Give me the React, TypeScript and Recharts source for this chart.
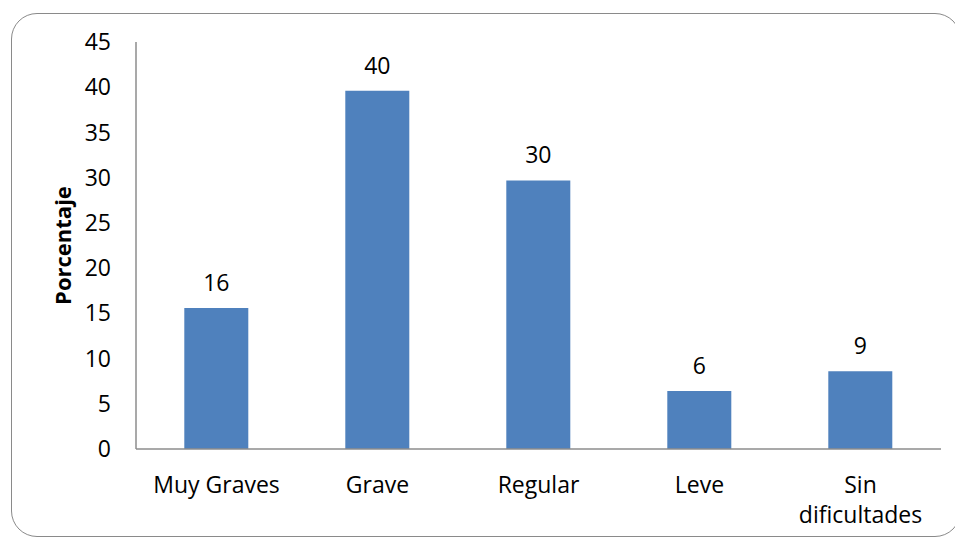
import { BarChart, Bar, XAxis, YAxis, LabelList } from "recharts";

const categories = ["Muy Graves", "Grave", "Regular", "Leve", "Sin dificultades"];
const porcentajes = [15.6, 39.6, 29.7, 6.4, 8.6];
const yTicks = [0, 5, 10, 15, 20, 25, 30, 35, 40, 45];

const data = categories.map((c, i) => ({ name: c, value: porcentajes[i] }));

const FONT = "'Open Sans', 'Liberation Sans', sans-serif";

function CatTick({ x, y, payload }: any) {
  const words: string[] = payload.value === "Sin dificultades" ? ["Sin", "dificultades"] : [payload.value];
  return (
    <text x={x} y={y} textAnchor="middle" fill="#000" fontSize={23} fontFamily={FONT}>
      {words.map((w, i) => (
        <tspan key={i} x={x} dy={i === 0 ? 36 : 30}>{w}</tspan>
      ))}
    </text>
  );
}

export default function App() {
  return (
    <div style={{ position: "absolute", left: 0, top: 0, width: 955, height: 540, background: "#fff" }}>
      <div style={{
        position: "absolute", left: 11, top: 13, width: 950, height: 524,
        border: "1.5px solid #8a8a8a", borderRadius: 26, boxSizing: "border-box",
      }} />
      <div style={{ position: "absolute", left: 0, top: 0 }}>
        <BarChart width={955} height={540} data={data} barCategoryGap="30%"
          margin={{ top: 42, right: 14, left: 56, bottom: 31 }}>
          <XAxis dataKey="name" axisLine={{ stroke: "#8c8c8c", strokeWidth: 1.5 }} tickLine={false}
            tick={<CatTick />} height={60} interval={0} />
          <YAxis domain={[0, 45]} ticks={yTicks} width={80} tickLine={false} tickSize={0} tickMargin={25}
            axisLine={{ stroke: "#8c8c8c", strokeWidth: 1.5 }}
            tick={{ fill: "#000", fontSize: 23, fontFamily: FONT }}
            label={{ value: "Porcentaje", angle: -90, position: "insideLeft", offset: 7,
              style: { textAnchor: "middle", fontWeight: "bold", fontSize: 22, fontFamily: FONT, fill: "#000" } }} />
          <Bar dataKey="value" fill="#4F81BD" isAnimationActive={false}>
            <LabelList dataKey="value" position="top" offset={17}
              formatter={(v: any) => Math.round(Number(v)).toString()}
              style={{ fill: "#000", fontSize: 23, fontFamily: FONT }} />
          </Bar>
        </BarChart>
      </div>
    </div>
  );
}
